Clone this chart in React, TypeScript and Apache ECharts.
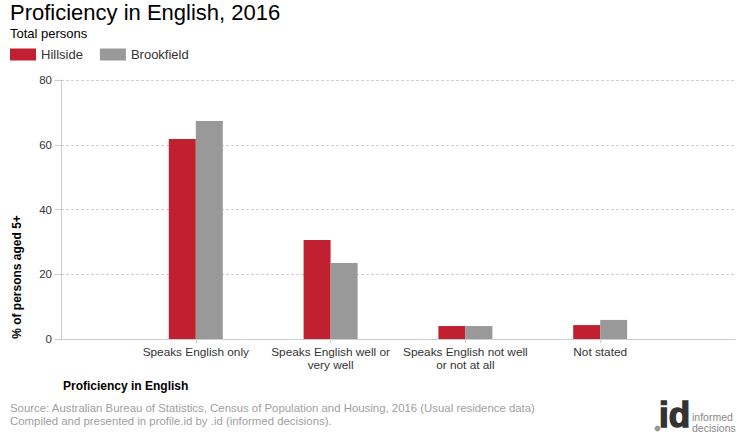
import React, { useEffect, useRef } from "react";
import * as echarts from "echarts";

const categories = [
  "Speaks English only",
  "Speaks English well or\nvery well",
  "Speaks English not well\nor not at all",
  "Not stated",
];
const hillside = [61.8, 30.6, 4.0, 4.3];
const brookfield = [67.3, 23.5, 4.0, 5.9];
const seriesNames = ["Hillside", "Brookfield"];
const yTicks = { min: 0, max: 80, interval: 20 };

const FONT = "'Liberation Sans', Arial, sans-serif";

export default function App() {
  const ref = useRef<HTMLDivElement>(null);
  useEffect(() => {
    document.body.style.margin = "0";
    if (!ref.current) return;
    const chart = echarts.init(ref.current, null, { renderer: "svg" });
    const axisData = ["", ...categories, ""];
    const pad = (arr: number[]) => [null, ...arr, null];
    chart.setOption({
      animation: false,
      backgroundColor: "#fff",
      textStyle: { fontFamily: FONT },
      title: [
        {
          text: "Proficiency in English, 2016",
          left: 10,
          top: 1,
          padding: 0,
          textStyle: { fontSize: 22, fontWeight: "normal", color: "#000", fontFamily: FONT },
        },
        {
          text: "Total persons",
          left: 10,
          top: 27,
          padding: 0,
          textStyle: { fontSize: 13, fontWeight: "normal", color: "#000", fontFamily: FONT },
        },
      ],
      legend: {
        left: 10,
        top: 48,
        padding: 0,
        itemWidth: 26,
        itemHeight: 12,
        itemGap: 17,
        icon: "rect",
        textStyle: { fontSize: 13, color: "#333", fontFamily: FONT },
        data: seriesNames,
      },
      grid: { left: 61, right: 5, top: 80, bottom: 101, containLabel: false },
      xAxis: {
        type: "category",
        data: axisData,
        boundaryGap: false,
        axisLine: { show: true, lineStyle: { color: "#ccc" } },
        axisTick: {
          show: true,
          length: 4,
          interval: (i: number) => i > 0 && i < axisData.length - 1,
          lineStyle: { color: "#ccc" },
        },
        axisLabel: {
          interval: 0,
          margin: 6,
          fontSize: 11.8,
          lineHeight: 13,
          color: "#333",
          fontFamily: FONT,
        },
        splitLine: { show: false },
      },
      yAxis: {
        type: "value",
        min: yTicks.min,
        max: yTicks.max,
        interval: yTicks.interval,
        axisLine: { show: true, lineStyle: { color: "#ccc" } },
        axisTick: { show: true, length: 6, lineStyle: { color: "#ccc" } },
        axisLabel: { fontSize: 11.5, color: "#333", margin: 9, fontFamily: FONT },
        splitLine: { show: true, lineStyle: { color: "#d0d0d0", type: [3, 2] } },
      },
      series: [
        {
          name: seriesNames[0],
          type: "bar",
          data: pad(hillside),
          barWidth: 27,
          barGap: "0%",
          itemStyle: { color: "#c0202f" },
        },
        {
          name: seriesNames[1],
          type: "bar",
          data: pad(brookfield),
          barWidth: 27,
          barGap: "0%",
          itemStyle: { color: "#999999" },
        },
      ],
      graphic: [
        {
          type: "text",
          x: 17,
          y: 277,
          rotation: Math.PI / 2,
          style: {
            text: "% of persons aged 5+",
            fontSize: 12,
            fontWeight: "bold",
            fill: "#000",
            align: "center",
            verticalAlign: "middle",
            fontFamily: FONT,
          },
        },
        {
          type: "text",
          x: 63,
          y: 380,
          style: {
            text: "Proficiency in English",
            fontSize: 12,
            fontWeight: "bold",
            fill: "#000",
            fontFamily: FONT,
          },
        },
        {
          type: "text",
          x: 10,
          y: 402,
          style: {
            text: "Source: Australian Bureau of Statistics, Census of Population and Housing, 2016 (Usual residence data)",
            fontSize: 11.4,
            fill: "#a0a0a0",
            fontFamily: FONT,
          },
        },
        {
          type: "text",
          x: 10,
          y: 415,
          style: {
            text: "Compiled and presented in profile.id by .id (informed decisions).",
            fontSize: 11.4,
            fill: "#a0a0a0",
            fontFamily: FONT,
          },
        },
        {
          type: "circle",
          shape: { cx: 657.5, cy: 428.5, r: 2.9 },
          style: { fill: "#999" },
        },
        {
          type: "text",
          x: 659,
          y: 432,
          style: {
            text: "id",
            fontSize: 35,
            fontWeight: "bold",
            fill: "#333",
            stroke: "#333",
            lineWidth: 1.4,
            verticalAlign: "bottom",
            fontFamily: FONT,
          },
        },
        {
          type: "text",
          x: 692,
          y: 411,
          style: {
            text: "informed\ndecisions",
            fontSize: 10.5,
            lineHeight: 11,
            fill: "#888",
            fontFamily: FONT,
          },
        },
      ],
    });
    return () => chart.dispose();
  }, []);
  return <div ref={ref} style={{ width: 740, height: 440 }} />;
}
